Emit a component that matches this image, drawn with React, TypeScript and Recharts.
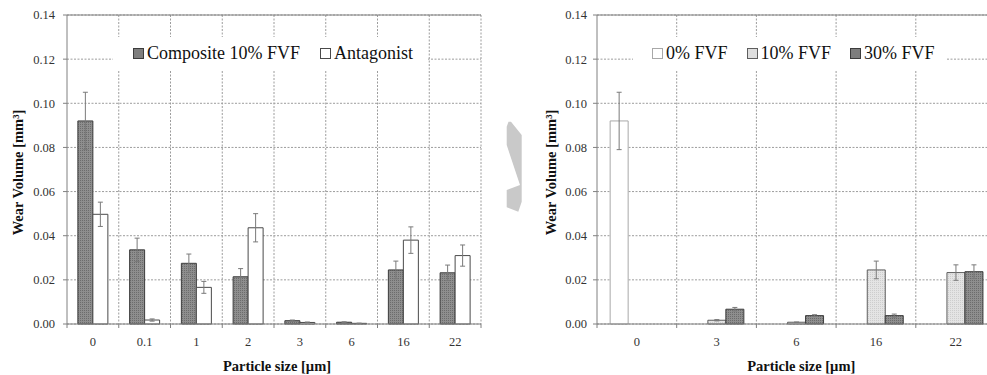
import React from 'react';
import { BarChart, Bar, XAxis, YAxis, CartesianGrid, ErrorBar, ReferenceLine, Label } from 'recharts';

// ---------- data ----------
const leftCategories = ['0', '0.1', '1', '2', '3', '6', '16', '22'];
const compositeValues = [0.092, 0.0336, 0.0275, 0.0214, 0.0015, 0.0008, 0.0245, 0.0232];
const compositeErrors = [0.013, 0.0053, 0.0042, 0.0037, 0.0003, 0.0002, 0.004, 0.0035];
const antagonistValues = [0.0497, 0.0018, 0.0166, 0.0436, 0.0007, 0.0003, 0.038, 0.031];
const antagonistErrors = [0.0055, 0.0005, 0.0027, 0.0064, 0.0002, 0.0001, 0.006, 0.0048];

const rightCategories = ['0', '3', '6', '16', '22'];
const fvf0Values = [0.092, null, null, null, null];
const fvf0Errors = [0.013, 0, 0, 0, 0];
const fvf10Values = [null, 0.0017, 0.0008, 0.0245, 0.0233];
const fvf10Errors = [0, 0.0003, 0.0001, 0.004, 0.0035];
const fvf30Values = [null, 0.0067, 0.0038, 0.0038, 0.0237];
const fvf30Errors = [0, 0.0008, 0.0004, 0.0007, 0.0031];

const yTicks = [0, 0.02, 0.04, 0.06, 0.08, 0.1, 0.12, 0.14];
const yLabel = 'Wear Volume [mm³]';
const xLabel = 'Particle size [µm]';
const leftLegend = ['Composite 10% FVF', 'Antagonist'];
const rightLegend = ['0% FVF', '10% FVF', '30% FVF'];

const leftData = leftCategories.map((c, i) => ({
  size: c,
  composite: compositeValues[i],
  compositeErr: compositeErrors[i],
  antagonist: antagonistValues[i],
  antagonistErr: antagonistErrors[i],
}));

const rightData = rightCategories.map((c, i) => ({
  size: c,
  fvf0: fvf0Values[i],
  fvf0Err: fvf0Errors[i],
  fvf10: fvf10Values[i],
  fvf10Err: fvf10Errors[i],
  fvf30: fvf30Values[i],
  fvf30Err: fvf30Errors[i],
}));

// ---------- styles ----------
const FONT = 'Liberation Serif, Tinos, DejaVu Serif, serif';
const AXIS = '#808080';
const GRID = '#9c9c9c';
const TICK_TEXT = '#333333';
const ERR = '#7a7a7a';

const makeXTick = (count: number) => (props: any) => {
  const { x, y, payload, index, width } = props;
  const half = payload && typeof payload.offset === 'number' && payload.offset > 0 ? payload.offset : width / count / 2;
  const axisY = y - 6;
  return (
    <g>
      <line x1={x - half} x2={x - half} y1={axisY} y2={axisY + 4} stroke={AXIS} strokeWidth={1} />
      {index === count - 1 && (
        <line x1={x + half} x2={x + half} y1={axisY} y2={axisY + 4} stroke={AXIS} strokeWidth={1} />
      )}
      <text x={x} y={axisY + 21.5} textAnchor="middle" style={{ fontFamily: FONT, fontSize: 12.5 }} fill={TICK_TEXT}>
        {payload.value}
      </text>
    </g>
  );
};

const gridGen = (count: number) => (args: any) => {
  const off = args.offset;
  const step = off.width / count;
  const out: number[] = [];
  for (let i = 1; i <= count; i++) out.push(off.left + i * step);
  return out;
};

const Patterns = ({ id }: { id: string }) => (
  <defs>
    <pattern id={`dark-${id}`} width={2} height={2} patternUnits="userSpaceOnUse">
      <rect width={2} height={2} fill="#8e8e8e" />
      <rect width={1} height={1} fill="#6c6c6c" />
    </pattern>
    <pattern id={`light-${id}`} width={2} height={2} patternUnits="userSpaceOnUse">
      <rect width={2} height={2} fill="#e4e4e4" />
      <rect width={1} height={1} fill="#cdcdcd" />
    </pattern>
  </defs>
);

const Swatch = ({ fill, stroke }: { fill: string; stroke: string }) => (
  <span
    style={{
      display: 'inline-block',
      width: 9,
      height: 9,
      background: fill,
      border: `1px solid ${stroke}`,
      marginRight: 3,
      flex: '0 0 auto',
    }}
  />
);

const LegendBox = ({ left, top, width, items, padLeft, gaps }: any) => (
  <div
    style={{
      position: 'absolute',
      left,
      top,
      width,
      height: 33,
      background: '#ffffff',
      display: 'flex',
      alignItems: 'center',
      paddingLeft: padLeft,
      boxSizing: 'border-box',
      fontFamily: FONT,
      fontSize: 18,
      color: '#111',
      whiteSpace: 'nowrap',
    }}
  >
    {items.map((it: any, i: number) => (
      <span key={it.label} style={{ display: 'flex', alignItems: 'center', marginLeft: i === 0 ? 0 : gaps }}>
        <Swatch fill={it.fill} stroke={it.stroke} />
        <span>{it.label}</span>
      </span>
    ))}
  </div>
);

const tickStyle = { fontFamily: FONT, fontSize: 12.5, fill: TICK_TEXT };
const labelStyle = { fontFamily: FONT, fontSize: 14.5, fontWeight: 'bold', fill: '#111' };

export default function App() {
  return (
    <div
      style={{
        position: 'absolute',
        left: 0,
        top: 0,
        width: 987,
        height: 375,
        overflow: 'hidden',
        background: '#ffffff',
        fontFamily: FONT,
      }}
    >
      {/* Left chart */}
      <div style={{ position: 'absolute', left: 0, top: 0 }}>
        <BarChart
          width={490}
          height={375}
          data={leftData}
          margin={{ top: 15, right: 9, left: 0, bottom: 0 }}
          barCategoryGap="21%"
          barGap={0}
          style={{ fontFamily: FONT }}
        >
          <Patterns id="l" />
          <CartesianGrid
            stroke={GRID}
            strokeDasharray="2 1.5"
            verticalCoordinatesGenerator={gridGen(leftCategories.length)}
          />
          <XAxis
            dataKey="size"
            height={51}
            tickLine={false}
            tickSize={4}
            tickMargin={2}
            axisLine={{ stroke: AXIS }}
            tick={makeXTick(leftCategories.length)}
            interval={0}
          >
            <Label value={xLabel} position="insideBottom" offset={4} dx={3} style={labelStyle} />
          </XAxis>
          <YAxis
            width={67}
            domain={[0, 0.14]}
            ticks={yTicks}
            tickFormatter={(v: number) => v.toFixed(2)}
            tickSize={4}
            tickMargin={8}
            tickLine={{ stroke: AXIS }}
            axisLine={{ stroke: AXIS }}
            tick={tickStyle}
            interval={0}
          >
            <Label value={yLabel} position="center" angle={-90} dx={-16} dy={3} style={labelStyle} />
          </YAxis>
          <ReferenceLine y={0.14} stroke={AXIS} strokeWidth={1} />
          <Bar dataKey="composite" fill="url(#dark-l)" stroke="#3c3c3c" strokeWidth={1} isAnimationActive={false}>
            <ErrorBar dataKey="compositeErr" width={2.5} stroke={ERR} strokeWidth={1} />
          </Bar>
          <Bar dataKey="antagonist" fill="#ffffff" stroke="#4a4a4a" strokeWidth={1} isAnimationActive={false}>
            <ErrorBar dataKey="antagonistErr" width={2.5} stroke={ERR} strokeWidth={1} />
          </Bar>
        </BarChart>
      </div>

      {/* Right chart */}
      <div style={{ position: 'absolute', left: 500, top: 0 }}>
        <BarChart
          width={500}
          height={375}
          data={rightData}
          margin={{ top: 15, right: 4.5, left: 0, bottom: 0 }}
          barCategoryGap="16.5%"
          barGap={0}
          style={{ fontFamily: FONT }}
        >
          <Patterns id="r" />
          <CartesianGrid
            stroke={GRID}
            strokeDasharray="2 1.5"
            verticalCoordinatesGenerator={gridGen(rightCategories.length)}
          />
          <XAxis
            dataKey="size"
            height={51}
            tickLine={false}
            tickSize={4}
            tickMargin={2}
            axisLine={{ stroke: AXIS }}
            tick={makeXTick(rightCategories.length)}
            interval={0}
          >
            <Label value={xLabel} position="insideBottom" offset={4} dx={5} style={labelStyle} />
          </XAxis>
          <YAxis
            width={97}
            domain={[0, 0.14]}
            ticks={yTicks}
            tickFormatter={(v: number) => v.toFixed(2)}
            tickSize={4}
            tickMargin={6}
            tickLine={{ stroke: AXIS }}
            axisLine={{ stroke: AXIS }}
            tick={tickStyle}
            interval={0}
          >
            <Label value={yLabel} position="center" angle={-90} dx={2.5} dy={3} style={labelStyle} />
          </YAxis>
          <ReferenceLine y={0.14} stroke={AXIS} strokeWidth={1} />
          <Bar dataKey="fvf0" fill="#ffffff" stroke="#a8a8a8" strokeWidth={1} isAnimationActive={false}>
            <ErrorBar dataKey="fvf0Err" width={2.5} stroke={ERR} strokeWidth={1} />
          </Bar>
          <Bar dataKey="fvf10" fill="url(#light-r)" stroke="#5e5e5e" strokeWidth={1} isAnimationActive={false}>
            <ErrorBar dataKey="fvf10Err" width={2.5} stroke={ERR} strokeWidth={1} />
          </Bar>
          <Bar dataKey="fvf30" fill="url(#dark-r)" stroke="#3c3c3c" strokeWidth={1} isAnimationActive={false}>
            <ErrorBar dataKey="fvf30Err" width={2.5} stroke={ERR} strokeWidth={1} />
          </Bar>
        </BarChart>
      </div>

      {/* Legends */}
      <LegendBox
        left={113}
        top={37}
        width={315}
        padLeft={20}
        gaps={20}
        items={[
          { label: leftLegend[0], fill: '#7e7e7e', stroke: '#3c3c3c' },
          { label: leftLegend[1], fill: '#ffffff', stroke: '#4a4a4a' },
        ]}
      />
      <LegendBox
        left={633}
        top={37}
        width={314}
        padLeft={19}
        gaps={19}
        items={[
          { label: rightLegend[0], fill: '#ffffff', stroke: '#a8a8a8' },
          { label: rightLegend[1], fill: '#dedede', stroke: '#5e5e5e' },
          { label: rightLegend[2], fill: '#7e7e7e', stroke: '#3c3c3c' },
        ]}
      />

      {/* decorative grey mark between the panels */}
      <svg style={{ position: 'absolute', left: 0, top: 0 }} width={987} height={375} pointerEvents="none">
        <polygon
          points="506.7,126.7 508.5,121.7 511,121.7 521.7,135 521.7,201.7 518.3,211.7 506.7,207.3 506.7,190 520,185 506.7,145"
          fill="#c9c9c9"
        />
      </svg>
    </div>
  );
}
